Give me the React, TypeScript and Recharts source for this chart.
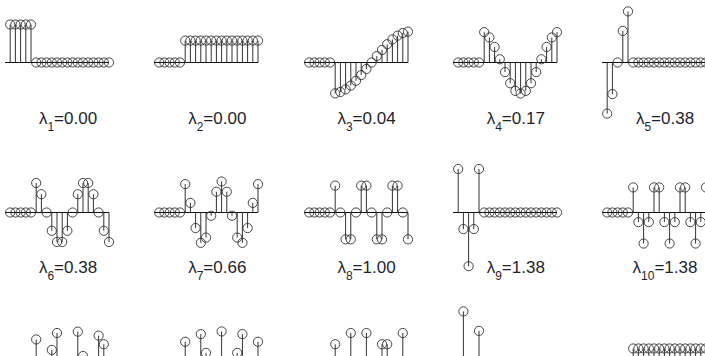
import { ScatterChart, Scatter, XAxis, YAxis, ReferenceLine } from 'recharts'

// node positions along each panel (line runs 0..20)
const nodes = [1, 2, 3, 4, 5, 6, 7, 8, 9, 10, 11, 12, 13, 14, 15, 16, 17, 18, 19, 20]

const v1 = [0.447, 0.447, 0.447, 0.447, 0.447, 0, 0, 0, 0, 0, 0, 0, 0, 0, 0, 0, 0, 0, 0, 0]
const v2 = [0, 0, 0, 0, 0, 0.258, 0.258, 0.258, 0.258, 0.258, 0.258, 0.258, 0.258, 0.258, 0.258, 0.258, 0.258, 0.258, 0.258, 0.258]
const v3 = [0, 0, 0, 0, 0, -0.363, -0.347, -0.316, -0.271, -0.215, -0.148, -0.076, 0, 0.076, 0.148, 0.215, 0.271, 0.316, 0.347, 0.363]
const v4 = [0, 0, 0, 0, 0, 0.357, 0.295, 0.183, 0.038, -0.113, -0.244, -0.334, -0.365, -0.334, -0.244, -0.113, 0.038, 0.183, 0.295, 0.357]
const v5 = [-0.601, -0.372, 0, 0.372, 0.601, 0, 0, 0, 0, 0, 0, 0, 0, 0, 0, 0, 0, 0, 0, 0]
const v6 = [0, 0, 0, 0, 0, 0.347, 0.215, 0, -0.215, -0.347, -0.347, -0.215, 0, 0.215, 0.347, 0.347, 0.215, 0, -0.215, -0.347]
const v7 = [0, 0, 0, 0, 0, 0.334, 0.113, -0.183, -0.357, -0.295, -0.038, 0.244, 0.365, 0.244, -0.038, -0.295, -0.357, -0.183, 0.113, 0.334]
const v8 = [0, 0, 0, 0, 0, 0.316, 0, -0.316, -0.316, 0, 0.316, 0.316, 0, -0.316, -0.316, 0, 0.316, 0.316, 0, -0.316]
const v9 = [0.512, -0.195, -0.632, -0.195, 0.512, 0, 0, 0, 0, 0, 0, 0, 0, 0, 0, 0, 0, 0, 0, 0]
const v10 = [0, 0, 0, 0, 0, 0.295, -0.113, -0.365, -0.113, 0.295, 0.295, -0.113, -0.365, -0.113, 0.295, 0.295, -0.113, -0.365, -0.113, 0.295]
const v11 = [0, 0, 0, 0, 0, 0.271, -0.215, -0.316, 0.148, 0.347, -0.076, -0.363, 0, 0.363, 0.076, -0.347, -0.148, 0.316, 0.215, -0.271]
const v12 = [0, 0, 0, 0, 0, 0.244, -0.295, -0.183, 0.334, 0.113, -0.357, -0.038, 0.365, -0.038, -0.357, 0.113, 0.334, -0.183, -0.295, 0.244]
const v13 = [0, 0, 0, 0, 0, 0.215, -0.347, 0, 0.347, -0.215, -0.215, 0.347, 0, -0.347, 0.215, 0.215, -0.347, 0, 0.347, -0.215]
const v14 = [-0.372, 0.601, 0, -0.601, 0.372, 0, 0, 0, 0, 0, 0, 0, 0, 0, 0, 0, 0, 0, 0, 0]
const v15 = [0, 0, 0, 0, 0, 0.165, 0.165, 0.165, 0.165, 0.165, 0.165, 0.165, 0.165, 0.165, 0.165, 0.165, 0.165, 0.165, 0.165, 0.165]

const vectors = [v1, v2, v3, v4, v5, v6, v7, v8, v9, v10, v11, v12, v13, v14, v15]
// only the first two rows of labels are inside the picture
const lambdas = ['0.00', '0.00', '0.04', '0.17', '0.38', '0.38', '0.66', '1.00', '1.38', '1.38']

const X0 = 5          // left end of the first panel's zero line
const COL_STEP = 149.25
const AXIS_Y0 = 62    // zero line of the first row
const ROW_STEP = 150
const PLOT_W = 104
const PLOT_H = 119    // y domain [-0.7, 0.7] -> 85px per unit
const PAD = 10
const INK = '#333'

const Ring = (p: any) => (
  <circle cx={p.cx} cy={p.cy} r={4.6} fill="none" stroke={INK} strokeWidth={0.9} />
)

function StemPanel({ values, idx }: { values: number[]; idx: number }) {
  const col = idx % 5
  const row = Math.floor(idx / 5)
  const data = values.map((v, i) => ({ x: nodes[i], v }))
  const left = X0 + col * COL_STEP
  const axisY = AXIS_Y0 + row * ROW_STEP
  const lam = lambdas[idx]

  return (
    <>
      <div style={{ position: 'absolute', left: left - PAD, top: axisY - PLOT_H / 2 - PAD }}>
        <ScatterChart
          width={PLOT_W + 2 * PAD}
          height={PLOT_H + 2 * PAD}
          margin={{ top: PAD, right: PAD, bottom: PAD, left: PAD }}
        >
          <XAxis type="number" dataKey="x" domain={[0, 20]} hide />
          <YAxis type="number" dataKey="v" domain={[-0.7, 0.7]} hide />
          <ReferenceLine segment={[{ x: 0, y: 0 }, { x: 20, y: 0 }]} stroke="#111" strokeWidth={1} />
          {data.map(d => (
            <ReferenceLine
              key={d.x}
              segment={[{ x: d.x, y: 0 }, { x: d.x, y: d.v }]}
              stroke={INK}
              strokeWidth={1}
            />
          ))}
          <Scatter data={data} dataKey="v" shape={Ring} isAnimationActive={false} />
        </ScatterChart>
      </div>
      {lam && (
        <div
          style={{
            position: 'absolute',
            left: left + 63 - 50,
            top: 109 + row * 149,
            width: 100,
            textAlign: 'center',
            fontFamily: '"Liberation Sans", Arial, sans-serif',
            fontSize: 17,
            lineHeight: '20px',
            color: '#1f1f2e',
            whiteSpace: 'nowrap',
          }}
        >
          λ<span style={{ fontSize: 12, position: 'relative', top: 7 }}>{idx + 1}</span>={lam}
        </div>
      )}
    </>
  )
}

export default function App() {
  return (
    <div
      style={{
        position: 'absolute',
        left: 0,
        top: 0,
        width: 705,
        height: 356,
        overflow: 'hidden',
        background: '#fff',
      }}
    >
      {vectors.map((vals, i) => (
        <StemPanel key={i} values={vals} idx={i} />
      ))}
    </div>
  )
}
